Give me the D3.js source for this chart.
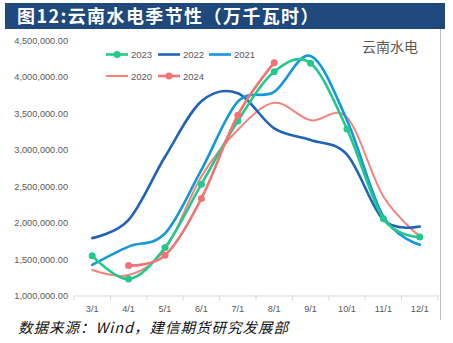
<!DOCTYPE html>
<html><head><meta charset="utf-8">
<script src="https://cdn.jsdelivr.net/npm/d3@7"></script>
<style>body{margin:0;background:#fff;}svg{display:block;}</style>
</head><body><svg id="c" width="453" height="343"></svg>
<script>
const categories = ["3/1","4/1","5/1","6/1","7/1","8/1","9/1","10/1","11/1","12/1"];
const yTicks = [1000000,1500000,2000000,2500000,3000000,3500000,4000000,4500000];
const s2023 = [1543000,1225000,1657000,2525000,3391000,4066000,4181000,3282000,2050000,1800000];
const s2022 = [1786000,2036000,2900000,3660000,3770000,3290000,3130000,2930000,2036000,1945000];
const s2021 = [1420000,1670000,1850000,2720000,3655000,3790000,4280000,3400000,2080000,1694000];
const s2020 = [1350000,1280000,1630000,2630000,3270000,3640000,3400000,3440000,2355000,1810000];
const s2024 = [null,1410000,1550000,2330000,3470000,4190000,null,null,null,null];

const series = [
  {name:"2020", values:s2020, color:"#F4837D", w:2, markers:false},
  {name:"2022", values:s2022, color:"#1F63B8", w:2.6, markers:false},
  {name:"2021", values:s2021, color:"#1597D8", w:2.6, markers:false},
  {name:"2023", values:s2023, color:"#22C98B", w:2.6, markers:true},
  {name:"2024", values:s2024, color:"#F27373", w:2.6, markers:true}
];

const svg = d3.select("#c");
// title banner
svg.append("rect").attr("x",5).attr("y",3).attr("width",440).attr("height",26).attr("fill","#1F497D");
svg.append("text").attr("x",17).attr("y",23).attr("fill","#fff")
  .attr("font-family","Noto Sans CJK SC").attr("font-weight","bold").attr("font-size",18)
  .attr("letter-spacing",1.4).text("图12:云南水电季节性（万千瓦时）");
// right frame line
svg.append("line").attr("x1",440.5).attr("x2",440.5).attr("y1",29).attr("y2",320).attr("stroke","#BFBFBF").attr("stroke-width",1);

const x = d3.scaleBand().domain(categories).range([74,438]);
const y = d3.scaleLinear().domain([1000000,4500000]).range([295.5,40]);

// y labels
const fmt = d3.format(",.2f");
svg.append("g").selectAll("text").data(yTicks).join("text")
  .attr("x",68).attr("y",d=>y(d)+3.5).attr("text-anchor","end")
  .attr("font-family","Liberation Sans, Arial").attr("font-size",9.2).attr("fill","#595959")
  .text(d=>fmt(d));

// x axis
const xa = svg.append("g").attr("transform","translate(0,295.5)")
  .call(d3.axisBottom(x).tickSize(0).tickPadding(10));
xa.select(".domain").attr("stroke","#D9D9D9");
xa.selectAll("text").attr("font-family","Liberation Sans, Arial").attr("font-size",9.2).attr("fill","#595959");
svg.append("g").selectAll("line").data(d3.range(categories.length+1)).join("line")
  .attr("x1",i=>74+i*x.step()).attr("x2",i=>74+i*x.step())
  .attr("y1",295.5).attr("y2",300.5).attr("stroke","#D9D9D9");

const cx = i => x(categories[i]) + x.bandwidth()/2;
const line = d3.line().defined(d=>d.v!=null).x(d=>cx(d.i)).y(d=>y(d.v)).curve(d3.curveCatmullRom.alpha(0));

series.forEach(s=>{
  const pts = s.values.map((v,i)=>({v,i}));
  svg.append("path").datum(pts).attr("d",line).attr("fill","none")
    .attr("stroke",s.color).attr("stroke-width",s.w).attr("stroke-linecap","round");
  if(s.markers){
    svg.append("g").selectAll("circle").data(pts.filter(d=>d.v!=null)).join("circle")
      .attr("cx",d=>cx(d.i)).attr("cy",d=>y(d.v)).attr("r",3.5).attr("fill",s.color);
  }
});

// legend
const legend = [
  {name:"2023", color:"#22C98B", markers:true, w:2.6, x:106, y:54.5},
  {name:"2022", color:"#1F63B8", markers:false, w:2.6, x:158, y:54.5},
  {name:"2021", color:"#1597D8", markers:false, w:2.6, x:209, y:54.5},
  {name:"2020", color:"#F4837D", markers:false, w:2, x:106, y:76},
  {name:"2024", color:"#F27373", markers:true, w:2.6, x:158, y:76}
];
const lg = svg.append("g");
legend.forEach(l=>{
  lg.append("line").attr("x1",l.x).attr("x2",l.x+22).attr("y1",l.y).attr("y2",l.y)
    .attr("stroke",l.color).attr("stroke-width",l.w);
  if(l.markers) lg.append("circle").attr("cx",l.x+11).attr("cy",l.y).attr("r",3.5).attr("fill",l.color);
  lg.append("text").attr("x",l.x+25).attr("y",l.y+3.5).attr("font-family","Liberation Sans, Arial")
    .attr("font-size",9.5).attr("fill","#595959").text(l.name);
});

svg.append("text").attr("x",362).attr("y",52).attr("font-family","Noto Sans CJK SC")
  .attr("font-size",14).attr("fill","#595959").text("云南水电");

svg.append("text").attr("x",18).attr("y",333).attr("font-family","Noto Sans CJK SC")
  .attr("font-size",14.5).attr("font-style","italic").attr("fill","#111").attr("letter-spacing",1)
  .text("数据来源：Wind，建信期货研究发展部");
</script></body></html>
